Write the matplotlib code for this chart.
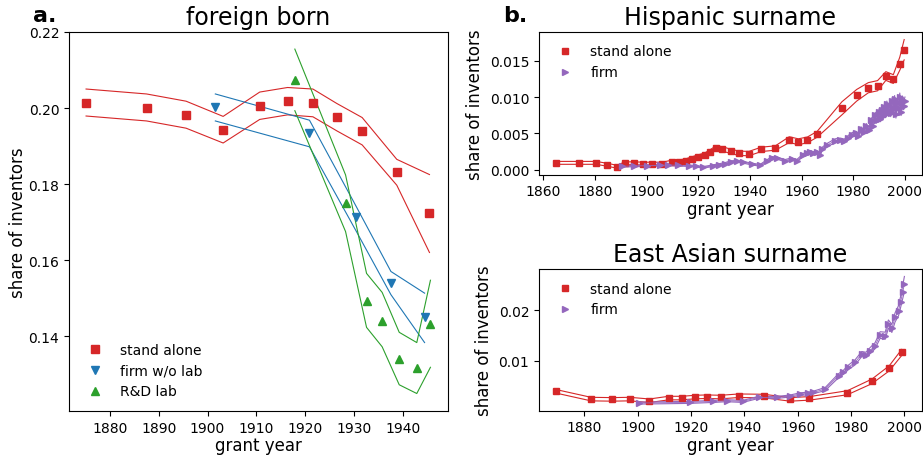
import matplotlib
matplotlib.use("Agg")
import matplotlib.pyplot as plt
import numpy as np

RED = "#d62728"
BLUE = "#1f77b4"
GREEN = "#2ca02c"
PURPLE = "#9467bd"

# ---------------- panel a: foreign born ----------------
fb_stand_x = [1875.1, 1887.5, 1895.6, 1903.2, 1910.7, 1916.4, 1921.6, 1926.5, 1931.7, 1938.8, 1945.5]
fb_stand_y = [0.2014, 0.2001, 0.1982, 0.1942, 0.2006, 0.2018, 0.2012, 0.1976, 0.1939, 0.1831, 0.1723]
fb_stand_hi = [0.2050, 0.2037, 0.2018, 0.1978, 0.2042, 0.2054, 0.2050, 0.2012, 0.1975, 0.1865, 0.1825]
fb_stand_lo = [0.1979, 0.1966, 0.1947, 0.1908, 0.1970, 0.1982, 0.1977, 0.1940, 0.1903, 0.1797, 0.1620]

fb_firm_x = [1901.6, 1920.9, 1930.4, 1937.6, 1944.5]
fb_firm_y = [0.2002, 0.1933, 0.1713, 0.1539, 0.1449]
fb_firm_hi = [0.2037, 0.1968, 0.1743, 0.1570, 0.1513]
fb_firm_lo = [0.1966, 0.1898, 0.1678, 0.1509, 0.1383]

fb_lab_x = [1917.9, 1928.3, 1932.6, 1935.8, 1939.3, 1942.9, 1945.7]
fb_lab_y = [0.2073, 0.1750, 0.1493, 0.1440, 0.1339, 0.1316, 0.1432]
fb_lab_hi = [0.2155, 0.1824, 0.1565, 0.1515, 0.1410, 0.1383, 0.1547]
fb_lab_lo = [0.1993, 0.1675, 0.1423, 0.1372, 0.1272, 0.1249, 0.1318]

# ---------------- panel b: Hispanic surname ----------------
hs_stand_x = [1865.0, 1873.9, 1880.4, 1884.5, 1888.5, 1891.6, 1895.2, 1898.7, 1902.2, 1905.8,
              1909.9, 1912.6, 1915.1, 1917.4, 1919.9, 1922.5, 1924.5, 1926.8,
              1929.2, 1932.5, 1935.8, 1939.6, 1944.4, 1949.8,
              1955.2, 1958.7, 1962.2, 1966.0,
              1975.6, 1981.3, 1985.8, 1989.4, 1992.6, 1995.5, 1998.0, 1999.7]
hs_stand_y = [0.00094, 0.00094, 0.00094, 0.00069, 0.00041, 0.00088, 0.00088, 0.00083, 0.00083, 0.00083,
              0.00106, 0.00110, 0.00124, 0.00151, 0.00179, 0.00206, 0.00248, 0.00303,
              0.00287, 0.00253, 0.00225, 0.00222, 0.00280, 0.00298,
              0.00413, 0.00385, 0.00409, 0.00487,
              0.00845, 0.01024, 0.01128, 0.01156, 0.01289, 0.01248, 0.01459, 0.01651]
hs_stand_err = [0.0002, 0.0002, 0.0002, 0.0002, 0.0002, 0.0002, 0.0002, 0.0002, 0.0002, 0.0002,
                0.00025, 0.00025, 0.00025, 0.00025, 0.00025, 0.00025, 0.00025, 0.00025,
                0.0003, 0.0003, 0.0003, 0.0003, 0.0003, 0.0003,
                0.0004, 0.0004, 0.0004, 0.0004,
                0.0009, 0.0008, 0.0007, 0.0007, 0.0006, 0.0006, 0.0009, 0.0014]

hs_firm_x = [1890.3, 1895.0, 1900.0, 1905.0, 1908.4, 1912.0, 1916.5, 1919.0, 1921.9, 1925.8,
             1928.0, 1930.3, 1932.5, 1934.8, 1937.4, 1940.6, 1943.9, 1946.5, 1948.5, 1950.5,
             1953.5, 1956.1, 1958.1, 1960.6, 1962.0, 1963.2, 1964.5, 1965.8, 1967.1, 1968.0,
             1970.0, 1973.0, 1975.0, 1976.5, 1978.0, 1979.5, 1981.0, 1982.0, 1983.0, 1984.0,
             1985.0, 1986.0, 1987.0, 1987.5, 1988.5, 1989.0, 1990.0, 1990.5, 1991.0, 1991.5,
             1992.0, 1992.5, 1993.0, 1993.5, 1994.0, 1994.5, 1995.0, 1995.5, 1996.0, 1996.5,
             1997.0, 1997.5, 1998.0, 1998.5, 1999.0, 1999.5, 2000.0]
hs_firm_y = [0.00047, 0.00050, 0.00055, 0.00058, 0.00065, 0.00060, 0.00055, 0.00045, 0.00033, 0.00055,
             0.00070, 0.00085, 0.00110, 0.00115, 0.00101, 0.00078, 0.00060, 0.00120, 0.00165, 0.00160,
             0.00124, 0.00147, 0.00124, 0.00200, 0.00230, 0.00239, 0.00225, 0.00245, 0.00200, 0.00290,
             0.00340, 0.00400, 0.00410, 0.00395, 0.00440, 0.00480, 0.00500, 0.00470, 0.00560, 0.00520,
             0.00600, 0.00550, 0.00680, 0.00600, 0.00750, 0.00680, 0.00800, 0.00700, 0.00820, 0.00740,
             0.00860, 0.00760, 0.00900, 0.00800, 0.00880, 0.00780, 0.00940, 0.00830, 0.00970, 0.00760,
             0.00920, 0.00850, 0.01000, 0.00800, 0.00960, 0.00880, 0.00940]
hs_firm_err = [0.0001, 0.0001, 0.0001, 0.0001, 0.0001, 0.0001, 0.0001, 0.0001, 0.0001, 0.00012,
               0.00012, 0.00012, 0.00012, 0.00012, 0.00012, 0.00012, 0.00012, 0.00015, 0.00015, 0.00015,
               0.00015, 0.00015, 0.00015, 0.0002, 0.0002, 0.0002, 0.0002, 0.0002, 0.0002, 0.0002,
               0.00025, 0.00025, 0.00025, 0.00025, 0.0003, 0.0003, 0.0003, 0.0003, 0.0003, 0.0003,
               0.00035, 0.00035, 0.00035, 0.00035, 0.0004, 0.0004, 0.0004, 0.0004, 0.0004, 0.0004,
               0.00045, 0.00045, 0.00045, 0.00045, 0.0005, 0.0005, 0.0005, 0.0005, 0.0005, 0.0005,
               0.0005, 0.0005, 0.00055, 0.00055, 0.00055, 0.00055, 0.0006]

# ---------------- panel b: East Asian surname ----------------
ea_stand_x = [1869.5, 1882.5, 1890.3, 1897.0, 1904.4, 1911.6, 1916.5, 1921.5, 1926.0, 1931.1,
              1937.9, 1947.3, 1957.1, 1964.4, 1978.6, 1987.8, 1994.3, 1999.0]
ea_stand_y = [0.00395, 0.00243, 0.00237, 0.00243, 0.00210, 0.00263, 0.00263, 0.00283, 0.00290, 0.00283,
              0.00309, 0.00303, 0.00237, 0.00257, 0.00368, 0.00592, 0.00849, 0.01164]
ea_stand_err = [0.00035, 0.00035, 0.00035, 0.00035, 0.00035, 0.00035, 0.00035, 0.00035, 0.00035, 0.00035,
                0.00035, 0.00035, 0.00035, 0.00035, 0.0004, 0.00045, 0.0005, 0.0006]

ea_firm_x = [1900.4, 1919.6, 1928.4, 1933.4, 1939.4, 1945.3, 1952.1, 1957.1, 1960.9, 1964.0,
             1965.9, 1970.3, 1975.3, 1977.1, 1979.0, 1981.5, 1984.0, 1985.6, 1987.1, 1989.0,
             1990.9, 1992.8, 1994.0, 1995.3, 1996.5, 1997.8, 1998.6, 1999.4, 2000.0]
ea_firm_y = [0.00164, 0.00178, 0.00197, 0.00211, 0.00197, 0.00276, 0.00276, 0.00303, 0.00342, 0.00355,
             0.00375, 0.00441, 0.00704, 0.00770, 0.00868, 0.00967, 0.01132, 0.01112, 0.01197, 0.01296,
             0.01507, 0.01493, 0.01724, 0.01638, 0.01855, 0.01987, 0.02164, 0.02362, 0.02513]
ea_firm_err = [0.0002, 0.0002, 0.0002, 0.0002, 0.0002, 0.0002, 0.0002, 0.0002, 0.00025, 0.00025,
               0.00025, 0.0003, 0.0004, 0.0004, 0.00045, 0.0005, 0.0005, 0.00055, 0.0006, 0.0006,
               0.00065, 0.0007, 0.0008, 0.0008, 0.0009, 0.001, 0.0011, 0.0013, 0.0015]


def band(ax, x, lo, hi, color):
    ax.plot(x, hi, color=color, lw=0.8)
    ax.plot(x, lo, color=color, lw=0.8)


def band_err(ax, x, y, err, color):
    y = np.asarray(y)
    err = np.asarray(err)
    band(ax, x, y - err, y + err, color)


fig = plt.figure(figsize=(9.23, 4.56), dpi=100)
W, H = 923.0, 456.0

def add_axes(l, t, r, b):
    return fig.add_axes([l / W, 1 - b / H, (r - l) / W, (b - t) / H])

axa = add_axes(69, 33, 448, 412)
axh = add_axes(539, 33, 922, 175.7)
axe = add_axes(539, 270, 922, 411.7)

ms = 5.5
# panel a
band(axa, fb_stand_x, fb_stand_lo, fb_stand_hi, RED)
band(axa, fb_firm_x, fb_firm_lo, fb_firm_hi, BLUE)
band(axa, fb_lab_x, fb_lab_lo, fb_lab_hi, GREEN)
axa.plot(fb_stand_x, fb_stand_y, ls="none", marker="s", ms=ms, color=RED, label="stand alone")
axa.plot(fb_firm_x, fb_firm_y, ls="none", marker="v", ms=ms, color=BLUE, label="firm w/o lab")
axa.plot(fb_lab_x, fb_lab_y, ls="none", marker="^", ms=ms, color=GREEN, label="R&D lab")
axa.set_xlim(1871.6, 1949.3)
axa.set_ylim(0.1203, 0.22)
axa.set_xticks([1880, 1890, 1900, 1910, 1920, 1930, 1940])
axa.set_yticks([0.14, 0.16, 0.18, 0.20, 0.22])
axa.set_yticklabels(["0.14", "0.16", "0.18", "0.20", "0.22"])
axa.set_title("foreign born", fontsize=17)
axa.set_xlabel("grant year", fontsize=12, labelpad=1)
axa.set_ylabel("share of inventors", fontsize=12, labelpad=1)
axa.legend(loc="lower left", frameon=False, fontsize=10)

# Hispanic
band_err(axh, hs_stand_x, hs_stand_y, hs_stand_err, RED)
band_err(axh, hs_firm_x, hs_firm_y, hs_firm_err, PURPLE)
axh.plot(hs_stand_x, hs_stand_y, ls="none", marker="s", ms=5, color=RED, label="stand alone")
axh.plot(hs_firm_x, hs_firm_y, ls="-", lw=0.6, marker=">", ms=4.5, color=PURPLE, label="firm")
axh.set_xlim(1858.3, 2006.6)
axh.set_ylim(-0.00069, 0.01895)
axh.set_xticks([1860, 1880, 1900, 1920, 1940, 1960, 1980, 2000])
axh.set_yticks([0.0, 0.005, 0.010, 0.015])
axh.set_yticklabels(["0.000", "0.005", "0.010", "0.015"])
axh.set_title("Hispanic surname", fontsize=17)
axh.set_xlabel("grant year", fontsize=12, labelpad=1)
axh.set_ylabel("share of inventors", fontsize=12)
hl = axh.legend(loc="upper left", frameon=False, fontsize=10)
for h in hl.legend_handles:
    h.set_linestyle("none")

# East Asian
band_err(axe, ea_stand_x, ea_stand_y, ea_stand_err, RED)
band_err(axe, ea_firm_x, ea_firm_y, ea_firm_err, PURPLE)
axe.plot(ea_stand_x, ea_stand_y, ls="none", marker="s", ms=5, color=RED, label="stand alone")
axe.plot(ea_firm_x, ea_firm_y, ls="-", lw=0.6, marker=">", ms=4.5, color=PURPLE, label="firm")
axe.set_xlim(1863.0, 2006.6)
axe.set_ylim(0.000138, 0.0281)
axe.set_xticks([1880, 1900, 1920, 1940, 1960, 1980, 2000])
axe.set_yticks([0.01, 0.02])
axe.set_yticklabels(["0.01", "0.02"])
axe.set_title("East Asian surname", fontsize=17)
axe.set_xlabel("grant year", fontsize=12, labelpad=1)
axe.set_ylabel("share of inventors", fontsize=12)
el = axe.legend(loc="upper left", frameon=False, fontsize=10)
for h in el.legend_handles:
    h.set_linestyle("none")

for ax in (axa, axh, axe):
    ax.tick_params(labelsize=10)

fig.text(33 / W, 1 - 22 / H, "a.", fontsize=16, fontweight="bold", va="baseline")
fig.text(503 / W, 1 - 22 / H, "b.", fontsize=16, fontweight="bold", va="baseline")

fig.savefig("out.png", dpi=100)
